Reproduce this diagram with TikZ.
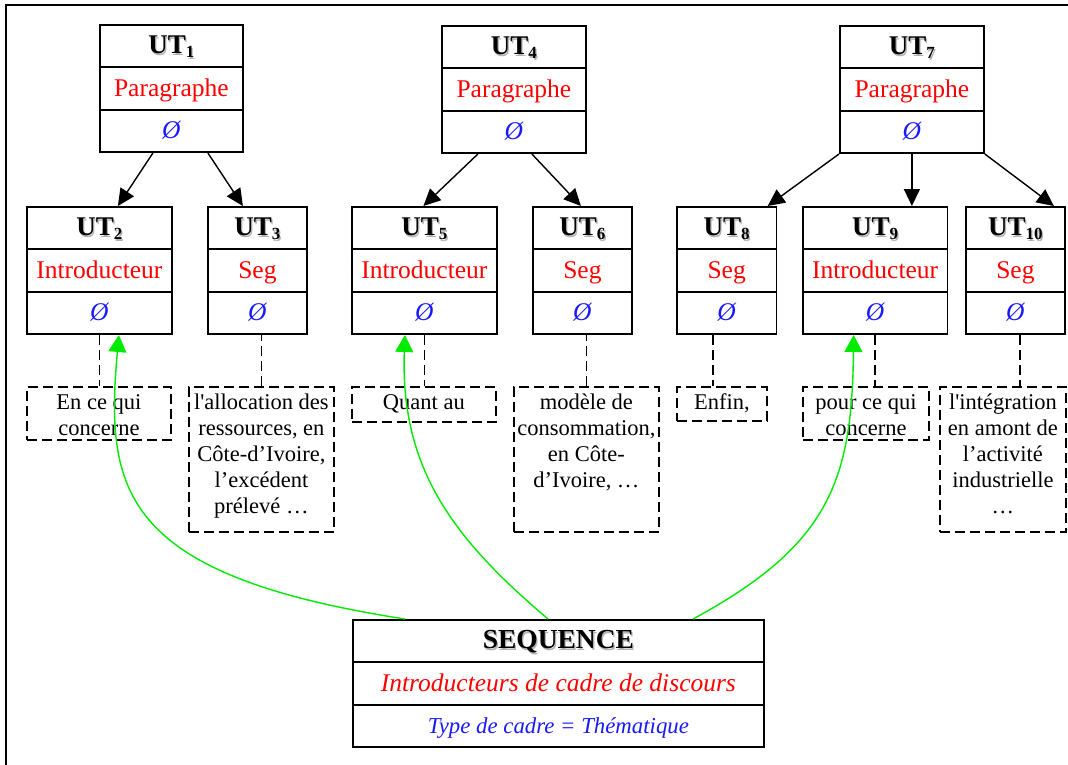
\documentclass[tikz,border=0pt]{standalone}
\usepackage{fontspec}
\setmainfont{Liberation Serif}
% plain family: keeps straight apostrophes as typed
\newfontfamily\plainserif{Liberation Serif}
\usetikzlibrary{shapes.multipart,arrows.meta}

\definecolor{utred}{RGB}{255,0,0}
\definecolor{utblue}{RGB}{25,25,255}
\definecolor{linkgreen}{RGB}{0,235,0}

% bold label with a soft grey drop shadow
\newcommand{\shadowed}[1]{\makebox[0pt][l]{\kern1.3pt\raisebox{-1.3pt}{\color{black!30}#1}}#1}
% fixed row height for the split boxes
\newcommand{\rowstrut}{\rule[-12.6pt]{0pt}{40.6pt}}
% unit label UT with a subscript index
\newcommand{\utlabel}[1]{\fontsize{27}{30}\selectfont\bfseries\shadowed{UT\raisebox{-4pt}{\fontsize{17}{17}\selectfont #1}}}
% one three-row unit box
\newcommand{\utnode}[5]{%
  \node[utbox, minimum width=#3pt] (#1) at (#2)
    {\rowstrut\utlabel{#4}%
     \nodepart{two}\rowstrut{\fontsize{25.5}{28}\selectfont\color{utred}#5}%
     \nodepart{three}\rowstrut{\fontsize{25.5}{28}\selectfont\itshape\color{utblue}Ø}};}
% top-aligned text inside a dashed box of given width and height
\newcommand{\boxtext}[3]{\parbox[c][#2pt][t]{#1pt}{\centering\plainserif\fontsize{22.5}{25.9}\selectfont\rule{0pt}{22.5pt}#3}}

\begin{document}
\begin{tikzpicture}[x=1pt,y=-1pt,
  utbox/.style={draw, line width=1.8pt, rectangle split, rectangle split parts=3,
    inner xsep=2pt, inner ysep=0pt, anchor=north west},
  tbox/.style={draw, dash pattern=on 10pt off 5pt, line width=1.8pt, inner sep=0pt, anchor=north west},
  link/.style={dash pattern=on 10pt off 5pt, line width=1.8pt},
  tree/.style={line width=1.4pt, -{Triangle[length=17pt,width=16pt]}},
  focus/.style={draw=linkgreen, line width=1.4pt, -{Triangle[length=17pt,width=18pt]}, linkgreen},
  frame/.style={line width=1.8pt}]

\useasboundingbox (0,0) rectangle (1068,765);
\draw[frame] (6,765) -- (6,5) -- (1068,5);

% paragraph units
\utnode{ut1}{99,24}{143}{1}{Paragraphe}
\utnode{ut4}{441,25}{144}{4}{Paragraphe}
\utnode{ut7}{839,25}{144}{7}{Paragraphe}

% sub-units
\utnode{ut2}{26,206}{145}{2}{Introducteur}
\utnode{ut3}{207,206}{99}{3}{Seg}
\utnode{ut5}{351,206}{145}{5}{Introducteur}
\utnode{ut6}{532,206}{99}{6}{Seg}
\utnode{ut8}{676,206}{99.5}{8}{Seg}
\utnode{ut9}{802,206}{144.5}{9}{Introducteur}
\utnode{ut10}{965,206}{99}{10}{Seg}

% text segments
\node[tbox] (t2) at (26,386) {\boxtext{144}{53}{En ce qui\\concerne}};
\node[tbox] (t3) at (188,386) {\boxtext{145}{145}{l'allocation des\\ressources, en\\Côte-d’Ivoire,\\l’excédent\\prélevé …}};
\node[tbox] (t5) at (351,386) {\boxtext{144}{35}{Quant au}};
\node[tbox] (t6) at (513,386) {\boxtext{145}{145}{modèle de\\consommation,\\en Côte-\\d’Ivoire, …}};
\node[tbox] (t8) at (676,386) {\boxtext{90}{34}{Enfin,}};
\node[tbox] (t9) at (802,386) {\boxtext{126}{53}{pour ce qui\\concerne}};
\node[tbox] (t10) at (939,386) {\boxtext{126}{145}{l'intégration\\en amont de\\l’activité\\industrielle\\…}};

% sequence box
\node[utbox, minimum width=411pt] (seq) at (352,619)
  {\rowstrut{\fontsize{27.5}{30}\selectfont\bfseries\shadowed{SEQUENCE}}%
   \nodepart{two}\rowstrut{\fontsize{25.5}{28}\selectfont\itshape\color{utred}Introducteurs de cadre de discours}%
   \nodepart{three}\rowstrut{\fontsize{22.8}{24}\selectfont\itshape\color{utblue}Type de cadre = Thématique}};

% tree edges
\draw[tree] ([xshift=-18.5pt]ut1.south) -- ([xshift=18.5pt]ut2.north);
\draw[tree] ([xshift=36.5pt]ut1.south) -- ([xshift=-14.5pt]ut3.north);
\draw[tree] ([xshift=-36pt]ut4.south) -- ([xshift=-1pt]ut5.north);
\draw[tree] ([xshift=18pt]ut4.south) -- ([xshift=-1.5pt]ut6.north);
\draw[tree] (ut7.south west) -- ([xshift=41pt]ut8.north);
\draw[tree] (ut7.south) -- (ut7.south |- ut9.north);
\draw[tree] (ut7.south east) -- ([xshift=38.5pt]ut10.north);

% dashed links to the text segments
\path ([xshift=-14pt]ut8.south) coordinate (c8);
\path ([xshift=4.5pt]ut10.south) coordinate (c10);
\draw[link] (ut2.south) -- (ut2.south |- t2.north);
\draw[link] (t3.north) -- (t3.north |- ut3.south);
\draw[link] (ut5.south) -- (ut5.south |- t5.north);
\draw[link] (t6.north) -- (t6.north |- ut6.south);
\draw[link] (c8) -- (c8 |- t8.north);
\draw[link] (ut9.south) -- (ut9.south |- t9.north);
\draw[link] (c10) -- (c10 |- t10.north);

% frame introducers pointing back to their units
\draw[focus] ([xshift=53pt]seq.north west) .. controls (120,575) and (105,490) .. ([xshift=19.5pt]ut2.south);
\draw[focus] ([xshift=196pt]seq.north west) .. controls (455,540) and (400,470) .. ([xshift=-19.5pt]ut5.south);
\draw[focus] ([xshift=341pt]seq.north west) .. controls (830,545) and (852,480) .. ([xshift=-21.5pt]ut9.south);
\end{tikzpicture}
\end{document}
